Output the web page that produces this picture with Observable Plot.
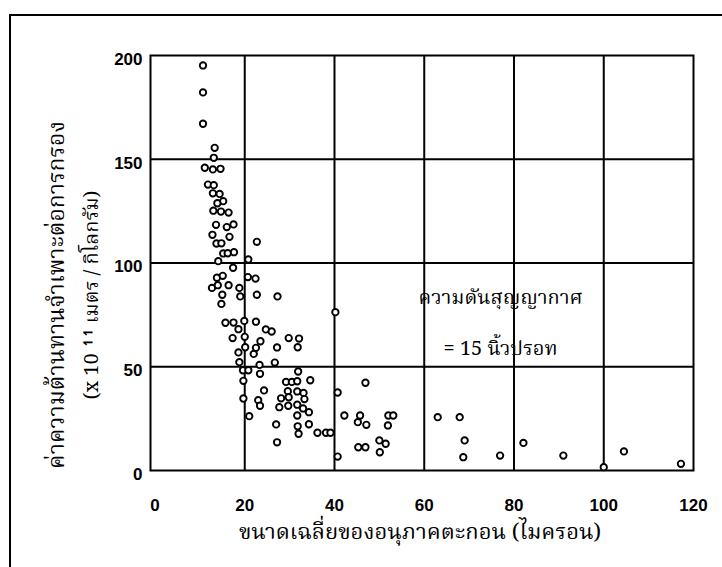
<!DOCTYPE html>
<html>
<head>
<meta charset="utf-8">
<script src="https://cdn.jsdelivr.net/npm/d3@7"></script>
<script src="https://cdn.jsdelivr.net/npm/@observablehq/plot@0.6"></script>
<style>
  html, body { margin: 0; padding: 0; background: #fff; }
  #wrap { position: relative; width: 722px; height: 567px; overflow: hidden; }
  #border { position: absolute; left: 9px; top: 14px; width: 800px; height: 700px;
            border-left: 2px solid #000; border-top: 2px solid #000; }
  #chart { position: absolute; left: 0; top: 0; }
</style>
</head>
<body>
<div id="wrap"><div id="border"></div><div id="chart"></div></div>
<script>
// Particle mean size (micron)
const particleSize = [
  10.7, 10.7, 10.7, 13.3, 13.1, 11.1, 12.9, 14.6, 11.8, 13.1, 12.9, 14.4, 15.2, 13.9, 13.0, 14.7,
  16.4, 13.6, 16.0, 17.5, 12.8, 16.6, 13.7, 14.8, 22.7, 15.2, 16.2, 17.6, 14.1, 17.4, 20.8,
  13.8, 15.1, 12.7, 14.0, 16.4, 18.8, 20.7, 22.4, 15.0, 19.0, 22.7, 27.3, 14.8, 15.7, 17.5,
  18.6, 19.9, 22.5, 24.7, 26.0, 17.3, 20.0, 23.5, 22.5, 20.1, 29.8, 32.1, 31.8, 27.2, 18.6,
  22.0, 18.8, 23.3, 26.7, 19.6, 20.8, 23.4, 19.7, 31.9, 34.6, 29.2, 30.5, 31.7, 24.3, 29.6,
  31.7, 33.1, 28.1, 29.8, 33.3, 19.7, 23.0, 23.4, 27.7, 29.7, 31.7, 33.0, 34.3, 31.7, 21.0,
  27.0, 31.8, 34.3, 32.0, 36.2, 38.1, 39.1, 27.2,
  40.2, 46.9, 40.7, 42.2, 45.7, 45.2, 47.1, 52.0, 53.1, 51.9, 50.0, 51.4, 50.1, 45.3, 46.9,
  40.7, 63.0, 67.9, 69.0, 68.7, 76.9, 82.1, 91.0, 100.0, 104.5, 117.2
];
// Specific resistance to filtration (x 10^11 m/kg)
const resistance = [
  195.2, 182.2, 167.1, 155.5, 150.7, 145.9, 145.1, 145.4, 137.8, 137.5, 133.6, 133.3, 129.8, 128.8, 125.2, 124.8,
  124.3, 118.4, 117.3, 118.6, 113.6, 112.6, 109.4, 109.5, 110.2, 104.6, 104.7, 105.2, 100.9, 97.7, 101.7,
  92.9, 93.8, 88.0, 89.3, 89.3, 88.0, 93.2, 92.5, 84.7, 83.9, 84.7, 83.9, 80.3, 71.2, 71.3,
  68.1, 72.1, 71.7, 68.0, 67.0, 63.8, 64.4, 62.3, 59.1, 59.4, 63.8, 63.6, 59.4, 59.3, 56.9,
  56.2, 52.2, 50.9, 52.0, 48.3, 48.3, 46.6, 43.2, 47.7, 43.5, 42.7, 42.7, 43.0, 38.6, 38.2,
  38.1, 37.4, 34.8, 35.3, 34.4, 34.7, 33.9, 31.2, 30.5, 31.2, 31.7, 29.9, 28.1, 26.5, 26.2,
  22.2, 21.3, 22.3, 17.7, 18.2, 18.2, 18.2, 13.6,
  76.3, 42.3, 37.6, 26.5, 26.5, 23.3, 22.0, 26.5, 26.5, 21.7, 14.5, 12.9, 8.8, 11.2, 11.2,
  6.7, 25.7, 25.7, 14.5, 6.4, 7.2, 13.3, 7.2, 1.6, 9.2, 3.2
];
const xTicks = [0, 20, 40, 60, 80, 100, 120];
const yTicks = [0, 50, 100, 150, 200];
const xGrid = [20, 40, 60, 80, 100];
const yGrid = [50, 100, 150];
const xTitle = "ขนาดเฉลี่ยของอนุภาคตะกอน (ไมครอน)";
const yTitleLines = ["ค่าความต้านทานจำเพาะต่อการกรอง", "(x 10 ¹¹ เมตร / กิโลกรัม)"];
const noteLines = ["ความดันสุญญากาศ", "= 15 นิ้วปรอท"];

const data = particleSize.map((x, i) => ({x, y: resistance[i]}));
const thaiFont = "'Noto Serif Thai', 'Noto Sans Thai', 'TH Sarabun New', 'Loma', 'Garuda', 'Tlwg Typo', serif";
const tickFont = "'Liberation Sans', Arial, Helvetica, sans-serif";

const chart = Plot.plot({
  width: 722,
  height: 567,
  marginLeft: 150,
  marginRight: 29,
  marginTop: 55,
  marginBottom: 97,
  style: {background: "transparent", overflow: "visible"},
  x: {domain: [-1, 120]},
  y: {domain: [0, 200]},
  marks: [
    Plot.ruleX(xGrid, {stroke: "#000", strokeWidth: 2}),
    Plot.ruleY(yGrid, {stroke: "#000", strokeWidth: 2}),
    Plot.frame({stroke: "#000", strokeWidth: 2}),
    Plot.axisX({ticks: xTicks, tickSize: 0, tickPadding: 28, label: null,
      fontSize: 17, fontWeight: "bold", fontFamily: tickFont}),
    Plot.axisY({ticks: yTicks, tickSize: 0, tickPadding: 8, label: null, dy: 4,
      fontSize: 17, fontWeight: "bold", fontFamily: tickFont}),
    Plot.dot(data, {x: "x", y: "y", r: 3.2, stroke: "#000", strokeWidth: 1.9, fill: "#fff"}),
    Plot.text([noteLines[0]], {x: 77, y: 83.4, fontSize: 20, fontFamily: thaiFont, fill: "#000"}),
    Plot.text([noteLines[1]], {x: 77, y: 58.8, fontSize: 20, fontFamily: thaiFont, fill: "#000"}),
    Plot.text([xTitle], {frameAnchor: "bottom", dy: 68, dx: -2, fontSize: 22, fontFamily: thaiFont, fill: "#000"}),
    Plot.text([yTitleLines[0]], {frameAnchor: "left", textAnchor: "middle", dx: -94, dy: 32, rotate: -90, fontSize: 23, fontFamily: thaiFont, fill: "#000"}),
    Plot.text([yTitleLines[1]], {frameAnchor: "left", textAnchor: "middle", dx: -59, dy: 32, rotate: -90, fontSize: 20, fontFamily: thaiFont, fill: "#000"})
  ]
});
document.getElementById("chart").appendChild(chart);
</script>
</body>
</html>
